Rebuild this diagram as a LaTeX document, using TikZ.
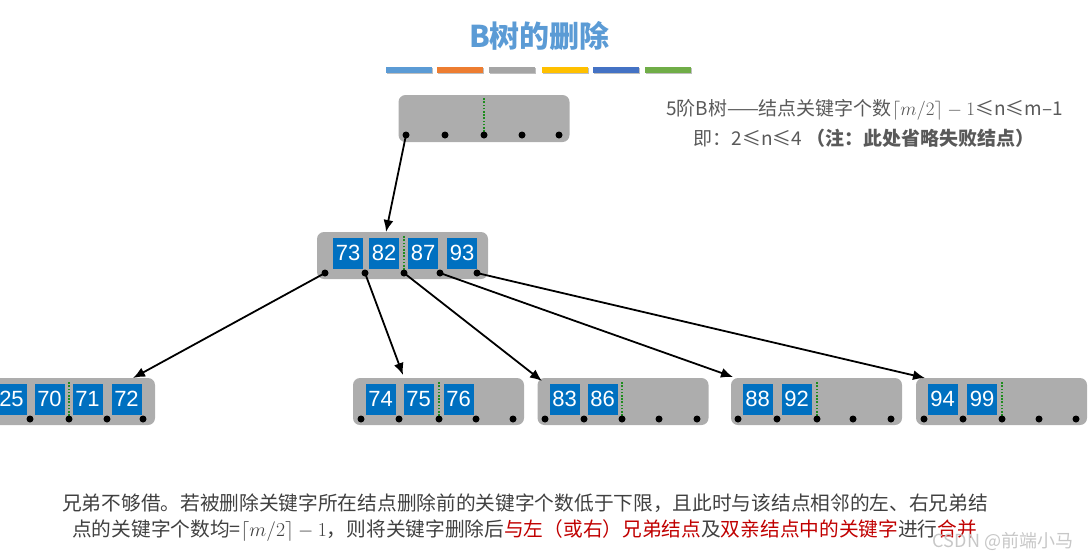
\RequirePackage{fix-cm}
\documentclass[tikz,border=0pt]{standalone}
\usepackage[no-math]{fontspec}
\setmainfont{Noto Sans CJK SC}
\newfontfamily\numfont{Liberation Sans}
\usetikzlibrary{arrows.meta}
\definecolor{titleblue}{HTML}{5B9BD5}
\definecolor{barorange}{HTML}{ED7D31}
\definecolor{bargray}{HTML}{A5A5A5}
\definecolor{baryellow}{HTML}{FFC000}
\definecolor{bardblue}{HTML}{4472C4}
\definecolor{bargreen}{HTML}{70AD47}
\definecolor{nodegray}{HTML}{ADADAD}
\definecolor{keyblue}{HTML}{0070C0}
\definecolor{splitgreen}{HTML}{1E8C1E}
\definecolor{notegray}{HTML}{595959}
\definecolor{textgray}{HTML}{404040}
\definecolor{textred}{HTML}{C00000}
\begin{document}
\begin{tikzpicture}[x=1pt,y=-1pt,
    btnode/.style={fill=nodegray,rounded corners=7pt,minimum width=171pt,minimum height=47pt,inner sep=0pt},
    keybox/.style={fill=keyblue,minimum width=30pt,minimum height=31pt,inner sep=0pt,text=white,font=\numfont\fontsize{22}{22}\selectfont},
    ptr/.style={circle,fill=black,minimum size=7pt,inner sep=0pt},
    splitline/.style={draw=splitgreen,line width=1.8pt,dash pattern=on 1.6pt off 1.6pt},
    colorbar/.style={minimum width=46pt,minimum height=6pt,inner sep=0pt},
    note/.style={text=notegray,font=\fontsize{19}{19}\selectfont,inner sep=0pt},
    remark/.style={text=textgray,font=\fontsize{19.7}{19.7}\selectfont,inner sep=0pt,anchor=west}
]
    \useasboundingbox (0,0) rectangle (1090,558);
    % title and colour bars
    \node[text=titleblue,font=\bfseries\fontsize{30}{30}\selectfont] (title) at (539.5,36) {B树的删除};
    \begin{scope}[every node/.style={colorbar}]
    \node[fill=black!25] at (410,71) {};
    \node[fill=black!25] at (461,71) {};
    \node[fill=black!25] at (513,71) {};
    \node[fill=black!25] at (566,71) {};
    \node[fill=black!25] at (617,71) {};
    \node[fill=black!25] at (669,71) {};
    \node[fill=titleblue] (bar1) at (409,70) {};
    \node[fill=barorange] (bar2) at (459.5,70) {};
    \node[fill=bargray] (bar3) at (511.5,70) {};
    \node[fill=baryellow] (bar4) at (564.5,70) {};
    \node[fill=bardblue] (bar5) at (615.5,70) {};
    \node[fill=bargreen] (bar6) at (668,70) {};
    \end{scope}
    % note on the right
    \node[note] (note1) at (864.5,110) {5阶B树——结点关键字个数$\lceil m/2\rceil - 1$≤n≤m–1};
    \node[note] (note2) at (864,138) {即：2≤n≤4 \textbf{（注：此处省略失败结点）}};
    % tree nodes
    \begin{scope}[every node/.style={btnode}]
    \node (root) at (484,118.5) {};
    \node (mid) at (402.5,255.5) {};
    \node (leafa) at (69.5,401.5) {};
    \node (leafb) at (438.5,401.5) {};
    \node (leafc) at (623,401.5) {};
    \node (leafd) at (816.5,401.5) {};
    \node (leafe) at (1001.5,401.5) {};
    \end{scope}
    % middle split lines
    \draw[splitline] (484,135) -- (484,98);
    \draw[splitline] (404,273) -- (404,235);
    \draw[splitline] (69,419) -- (69,381);
    \draw[splitline] (439,419) -- (439,381);
    \draw[splitline] (622,419) -- (622,381);
    \draw[splitline] (817,419) -- (817,381);
    \draw[splitline] (1002,419) -- (1002,381);
    % pointers
    \begin{scope}[every node/.style={ptr}]
    \node (root-p0) at (406,135) {};
    \node (root-p1) at (445,135) {};
    \node (root-p2) at (484,135) {};
    \node (root-p3) at (522,135) {};
    \node (root-p4) at (559,135) {};
    \node (mid-p0) at (325,273) {};
    \node (mid-p1) at (365,273) {};
    \node (mid-p2) at (404,273) {};
    \node (mid-p3) at (440,273) {};
    \node (mid-p4) at (477,273) {};
    \node (leafa-p0) at (-8,419) {};
    \node (leafa-p1) at (30,419) {};
    \node (leafa-p2) at (69,419) {};
    \node (leafa-p3) at (107,419) {};
    \node (leafa-p4) at (143,419) {};
    \node (leafb-p0) at (361,419) {};
    \node (leafb-p1) at (399,419) {};
    \node (leafb-p2) at (439,419) {};
    \node (leafb-p3) at (476,419) {};
    \node (leafb-p4) at (513,419) {};
    \node (leafc-p0) at (545,419) {};
    \node (leafc-p1) at (584,419) {};
    \node (leafc-p2) at (622,419) {};
    \node (leafc-p3) at (659,419) {};
    \node (leafc-p4) at (697,419) {};
    \node (leafd-p0) at (738,419) {};
    \node (leafd-p1) at (777,419) {};
    \node (leafd-p2) at (817,419) {};
    \node (leafd-p3) at (853,419) {};
    \node (leafd-p4) at (891,419) {};
    \node (leafe-p0) at (924,419) {};
    \node (leafe-p1) at (963,419) {};
    \node (leafe-p2) at (1002,419) {};
    \node (leafe-p3) at (1039,419) {};
    \node (leafe-p4) at (1076,419) {};
    \end{scope}
    % keys
    \begin{scope}[every node/.style={keybox}]
    \node (mid-k1) at (348,253) {73};
    \node (mid-k2) at (384,253) {82};
    \node (mid-k3) at (423,253) {87};
    \node (mid-k4) at (462,253) {93};
    \node (leafa-k1) at (11.5,399) {25};
    \node (leafa-k2) at (49.5,399) {70};
    \node (leafa-k3) at (87.5,399) {71};
    \node (leafa-k4) at (126.5,399) {72};
    \node (leafb-k1) at (380.5,399) {74};
    \node (leafb-k2) at (418.5,399) {75};
    \node (leafb-k3) at (458.5,399) {76};
    \node (leafc-k1) at (564.5,399) {83};
    \node (leafc-k2) at (602.5,399) {86};
    \node (leafd-k1) at (757.5,399) {88};
    \node (leafd-k2) at (796.5,399) {92};
    \node (leafe-k1) at (942.5,399) {94};
    \node (leafe-k2) at (982,399) {99};
    \end{scope}
    % arrow ends
    \coordinate (mid-in) at (386,232);
    \coordinate (leafa-in) at (133,378);
    \coordinate (leafb-in) at (403,375);
    \coordinate (leafc-in) at (542,381);
    \coordinate (leafd-in) at (733,377);
    \coordinate (leafe-in) at (925,378);
    \begin{scope}[every edge/.style={draw=black,line width=1.8pt,-{Latex[length=12pt,width=10pt]}}]
    \path (root-p0.center) edge (mid-in)
          (mid-p0.center) edge (leafa-in)
          (mid-p1.center) edge (leafb-in)
          (mid-p2.center) edge (leafc-in)
          (mid-p3.center) edge (leafd-in)
          (mid-p4.center) edge (leafe-in);
    \end{scope}
    % remark below
    \node[remark] (remark1) at (62,503) {兄弟不够借。若被删除关键字所在结点删除前的关键字个数低于下限，且此时与该结点相邻的左、右兄弟结};
    \node[remark] (remark2) at (72,531) {点的关键字个数均=$\lceil m/2\rceil - 1$，则将关键字删除后\textcolor{textred}{与左（或右）兄弟结点}及\textcolor{textred}{双亲结点中的关键字}进行\textcolor{textred}{合并}};
    \node[text=black!22,font=\fontsize{18}{18}\selectfont,inner sep=0pt] (mark) at (1003,541) {CSDN @前端小马};
\end{tikzpicture}
\end{document}
